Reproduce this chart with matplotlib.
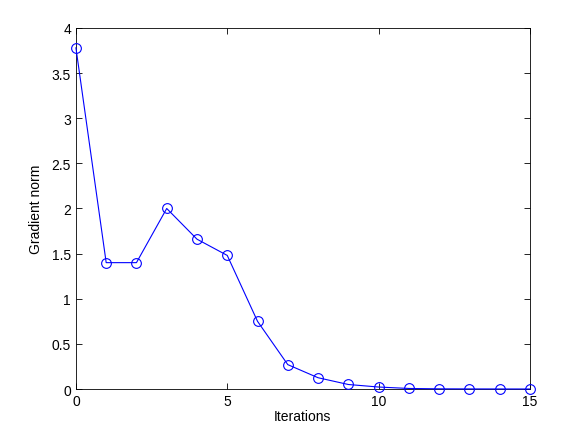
import matplotlib
matplotlib.use('Agg')
import matplotlib.pyplot as plt

# --- data ---
iterations = list(range(16))
grad_norm = [3.78, 1.40, 1.40, 2.00, 1.66, 1.48, 0.75, 0.27, 0.125, 0.05,
             0.022, 0.006, 0.002, 0.001, 0.0005, 0.0002]
xticks = [0, 5, 10, 15]
yticks = [0, 0.5, 1, 1.5, 2, 2.5, 3, 3.5, 4]

plt.rcParams['font.family'] = ['Liberation Sans', 'DejaVu Sans']
plt.rcParams['font.size'] = 10

fig = plt.figure(figsize=(5.84, 4.39), dpi=100)
ax = fig.add_axes([0.13, 0.1116, 0.7774, 0.8224])

ax.plot(iterations, grad_norm, color='blue', lw=0.8, marker='o', ms=7,
        mfc='none', mec='blue', mew=0.8, clip_on=False, zorder=3)

ax.set_xlim(0, 15)
ax.set_ylim(0, 4)
ax.set_xticks(xticks)
ax.set_yticks(yticks)
ax.set_yticklabels(['0', '0.5', '1', '1.5', '2', '2.5', '3', '3.5', '4'])
ax.tick_params(direction='in', top=True, right=True, length=4, width=0.6)
for s in ax.spines.values():
    s.set_linewidth(0.6)
ax.set_xlabel('Iterations', labelpad=1)
ax.set_ylabel('Gradient norm', labelpad=6)

fig.savefig('out.png', dpi=100)
